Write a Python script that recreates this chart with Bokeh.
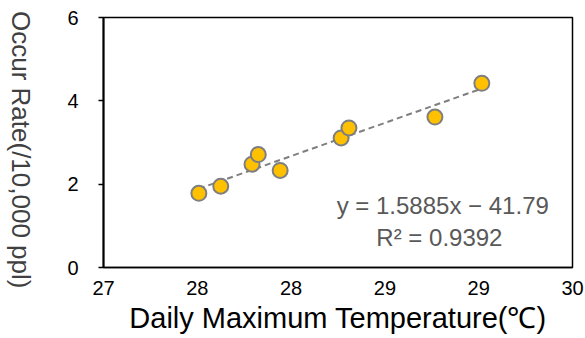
import numpy as np
from bokeh.plotting import figure
from bokeh.layouts import row
from bokeh.models import FixedTicker, NumeralTickFormatter, Label, Range1d, Div
from bokeh.embed import file_html
from bokeh.resources import INLINE

# Data
temperature = [27.61, 27.75, 27.95, 27.99, 28.13, 28.52, 28.57, 29.12, 29.42]
occur_rate = [1.78, 1.95, 2.48, 2.71, 2.33, 3.11, 3.35, 3.61, 4.42]
x_ticks = [27.0, 27.6, 28.2, 28.8, 29.4, 30.0]
y_ticks = [0, 2, 4, 6]
equation_text = "y = 1.5885x − 41.79"
r2_text = "R²  = 0.9392"
x_title = "Daily Maximum Temperature(℃)"
y_title = "Occur Rate(/10,000 ppl)"

TITLE_W = 42

# y title reads top-to-bottom in the reference (vertical writing mode)
t = Div(text=('<div style="width:42px;height:300px;display:flex;align-items:center;'
              'justify-content:center;"><span style="writing-mode:vertical-rl;'
              "font-family:'Liberation Sans';font-size:26px;color:#404040;"
              'white-space:nowrap;line-height:1;">' + y_title + '</span></div>'),
        width=TITLE_W, height=338, margin=0)

p = figure(width=585 - TITLE_W, height=338, output_backend="svg", toolbar_location=None,
           x_range=Range1d(27, 30), y_range=Range1d(0, 6),
           min_border_left=103 - TITLE_W, min_border_right=13,
           min_border_top=17, min_border_bottom=71)
p.xgrid.visible = False
p.ygrid.visible = False
p.outline_line_color = "black"
p.outline_line_width = 1.5
p.background_fill_color = "white"
p.border_fill_color = "white"

# trendline from least squares fit
coef = np.polyfit(temperature, occur_rate, 1)
xs = np.array([min(temperature), max(temperature)])
p.line(xs, np.polyval(coef, xs), line_color="#7f7f7f", line_width=2, line_dash="6 4")

p.scatter(temperature, occur_rate, size=15, fill_color="#FFC000",
          line_color="#7f7f7f", line_width=2)

xa = p.xaxis[0]
xa.ticker = FixedTicker(ticks=x_ticks)
xa.formatter = NumeralTickFormatter(format="0")
xa.major_tick_out = 0
xa.major_tick_in = 0
xa.minor_tick_out = 0
xa.minor_tick_in = 0
xa.axis_line_color = "black"
xa.axis_line_width = 1.5
xa.major_label_text_font = "Liberation Sans"
xa.major_label_text_font_size = "20px"
xa.major_label_text_color = "black"
xa.major_label_standoff = 13
xa.axis_label = x_title
xa.axis_label_text_font = "Liberation Sans"
xa.axis_label_text_font_size = "29px"
xa.axis_label_text_font_style = "normal"
xa.axis_label_text_color = "black"
xa.axis_label_standoff = 4

ya = p.yaxis[0]
ya.ticker = FixedTicker(ticks=y_ticks)
ya.major_tick_out = 5
ya.major_tick_in = 0
ya.minor_tick_out = 0
ya.minor_tick_in = 0
ya.major_tick_line_color = "black"
ya.major_tick_line_width = 1.5
ya.axis_line_color = "black"
ya.axis_line_width = 2
ya.major_label_text_font = "Liberation Sans"
ya.major_label_text_font_size = "20px"
ya.major_label_text_color = "black"
ya.major_label_standoff = 20

for txt, yv in [(equation_text, 1.49), (r2_text, 0.72)]:
    p.add_layout(Label(x=29.17, y=yv, text=txt, text_align="center",
                       text_baseline="middle", text_font="Liberation Sans",
                       text_font_size="24px", text_color="#595959"))

layout = row(t, p)
open("out.html", "w").write(file_html(layout, INLINE))
